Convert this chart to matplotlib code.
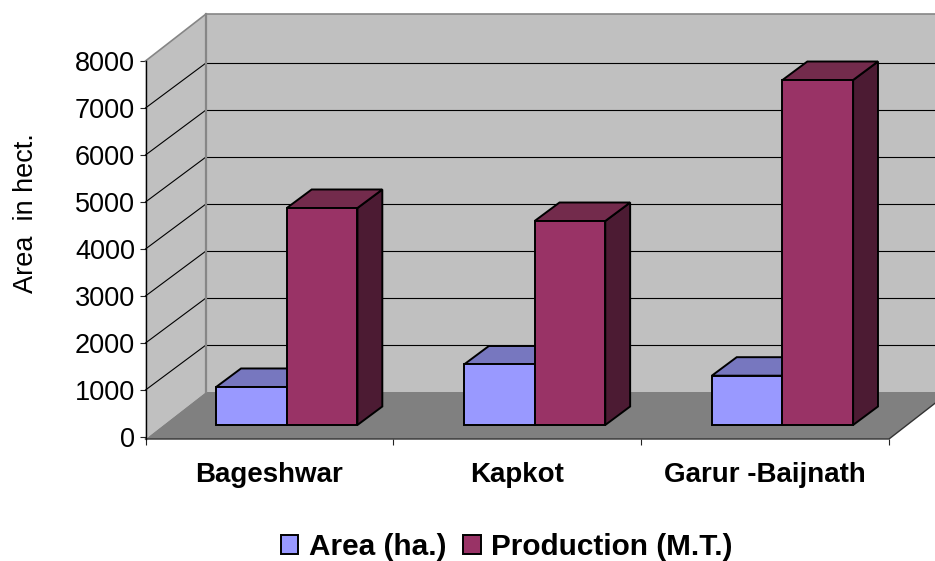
import matplotlib
matplotlib.use("Agg")
import matplotlib.pyplot as plt
from matplotlib.patches import Patch, Polygon

plt.rcParams['font.family'] = ['Liberation Sans', 'DejaVu Sans']

categories = ["Bageshwar", "Kapkot", "Garur -Baijnath"]
area = [809, 1287, 1049]
production = [4617, 4340, 7340]
y_ticks = [0, 1000, 2000, 3000, 4000, 5000, 6000, 7000, 8000]

W, H = 935, 561
fig = plt.figure(figsize=(W / 100, H / 100), dpi=100)
# axes = front plane of the fake 3D box
ax = fig.add_axes([145.5 / W, 1 - 439 / H, 743.5 / W, 378 / H])
# box runs a little past the scale at both ends, like the original
y_low, y_high = -42.5, 8000
ax.set_xlim(0, 3)
ax.set_ylim(y_low, y_high)
ax.patch.set_visible(False)
for s in ["top", "right", "bottom"]:
    ax.spines[s].set_visible(False)
ax.spines["left"].set_linewidth(1.0)
ax.spines["left"].set_zorder(6)

# full depth of the box in data units
DX = 60.5 / (743.5 / 3)
DY = 45 / 0.047


def proj(x, y, d):
    # shift a point back by depth d (0 front, 1 back wall)
    return (x + d * DX, y + d * DY)


def face(pts, color, z, ec="none", lw=0):
    ax.add_patch(Polygon(pts, closed=True, fc=color, ec=ec, lw=lw, zorder=z,
                         clip_on=False, joinstyle="miter"))


wall_gray = "#c0c0c0"
edge_gray = "#868686"
wall_top = y_high - y_low

# back wall, side wall, floor
face([proj(0, 0, 1), proj(3, 0, 1), proj(3, wall_top, 1), proj(0, wall_top, 1)], wall_gray, 1)
face([proj(0, y_low, 0), proj(0, 0, 1), proj(0, wall_top, 1), proj(0, y_high, 0)], wall_gray, 1)
face([proj(0, y_low, 0), proj(3, y_low, 0), proj(3, 0, 1), proj(0, 0, 1)], "#808080", 1)

# gridlines on both walls
for v in y_ticks[1:-1]:
    a, b = proj(0, v, 0), proj(0, v, 1)
    c = proj(3, v, 1)
    ax.plot([a[0], b[0]], [a[1], b[1]], color="black", lw=0.8, zorder=2, clip_on=False)
    ax.plot([b[0], c[0]], [b[1], c[1]], color="black", lw=0.8, zorder=2, clip_on=False, snap=True)
a, b, c = proj(0, y_high, 0), proj(0, wall_top, 1), proj(3, wall_top, 1)
ax.plot([a[0], b[0], c[0]], [a[1], b[1], c[1]], color=edge_gray, lw=1.2, zorder=2, clip_on=False)

# wall edges
a, b = proj(0, 0, 1), proj(0, wall_top, 1)
ax.plot([a[0], b[0]], [a[1], b[1]], color=edge_gray, lw=1.6, zorder=3, clip_on=False)
# floor front edge and its right side
b, c, d = proj(0, y_low, 0), proj(3, y_low, 0), proj(3, 0, 1)
ax.plot([b[0], c[0], d[0]], [b[1], c[1], d[1]], color="#333333", lw=1.0, zorder=3, clip_on=False,
        solid_joinstyle="miter")

# bars
bar_w = 0.285
gap = 0.2200
d0, d1 = 0.267, 0.678
series = [(area, "#9999ff", "#7777bf", "#4c4c80"),
          (production, "#993366", "#732b4c", "#4c1b33")]
z = 4
for i in range(len(categories)):
    for j, (vals, front, top, side) in enumerate(series):
        x0 = i + gap + j * bar_w
        x1 = x0 + bar_w
        v = vals[i]
        face([proj(x1, 0, d0), proj(x1, 0, d1), proj(x1, v, d1), proj(x1, v, d0)], side, z, "black", 1.4)
        face([proj(x0, v, d0), proj(x1, v, d0), proj(x1, v, d1), proj(x0, v, d1)], top, z, "black", 1.4)
        face([proj(x0, 0, d0), proj(x1, 0, d0), proj(x1, v, d0), proj(x0, v, d0)], front, z, "black", 1.4)
        z += 0.1

ax.set_yticks(y_ticks)
ax.set_xticks([0, 1, 2, 3])
ax.set_xticklabels([])
ax.tick_params(axis="both", direction="out", length=4.5, width=0.8, color="#222222", pad=3)
ax.tick_params(axis="y", labelsize=19.5)

for i, name in enumerate(categories):
    ax.text(i + 0.5, -0.094, name, transform=ax.get_xaxis_transform(), ha="center", va="center",
            fontsize=20, fontweight="bold", clip_on=False)

fig.text(26.5 / W, 1 - 213 / H, "Area  in hect.", rotation=90, ha="center", va="center", fontsize=19.5)

handles = [Patch(fc="#9999ff", ec="black", lw=1.4, label="Area (ha.)"),
           Patch(fc="#993366", ec="black", lw=1.4, label="Production (M.T.)")]
fig.legend(handles=handles, loc="center", bbox_to_anchor=(507 / W, 1 - 547 / H), ncol=2, frameon=False,
           prop={"size": 21.4, "weight": "bold"}, handlelength=0.58, handleheight=0.58,
           handletextpad=0.36, columnspacing=0.56, borderpad=0, borderaxespad=0)

fig.savefig("out.png", dpi=100)
